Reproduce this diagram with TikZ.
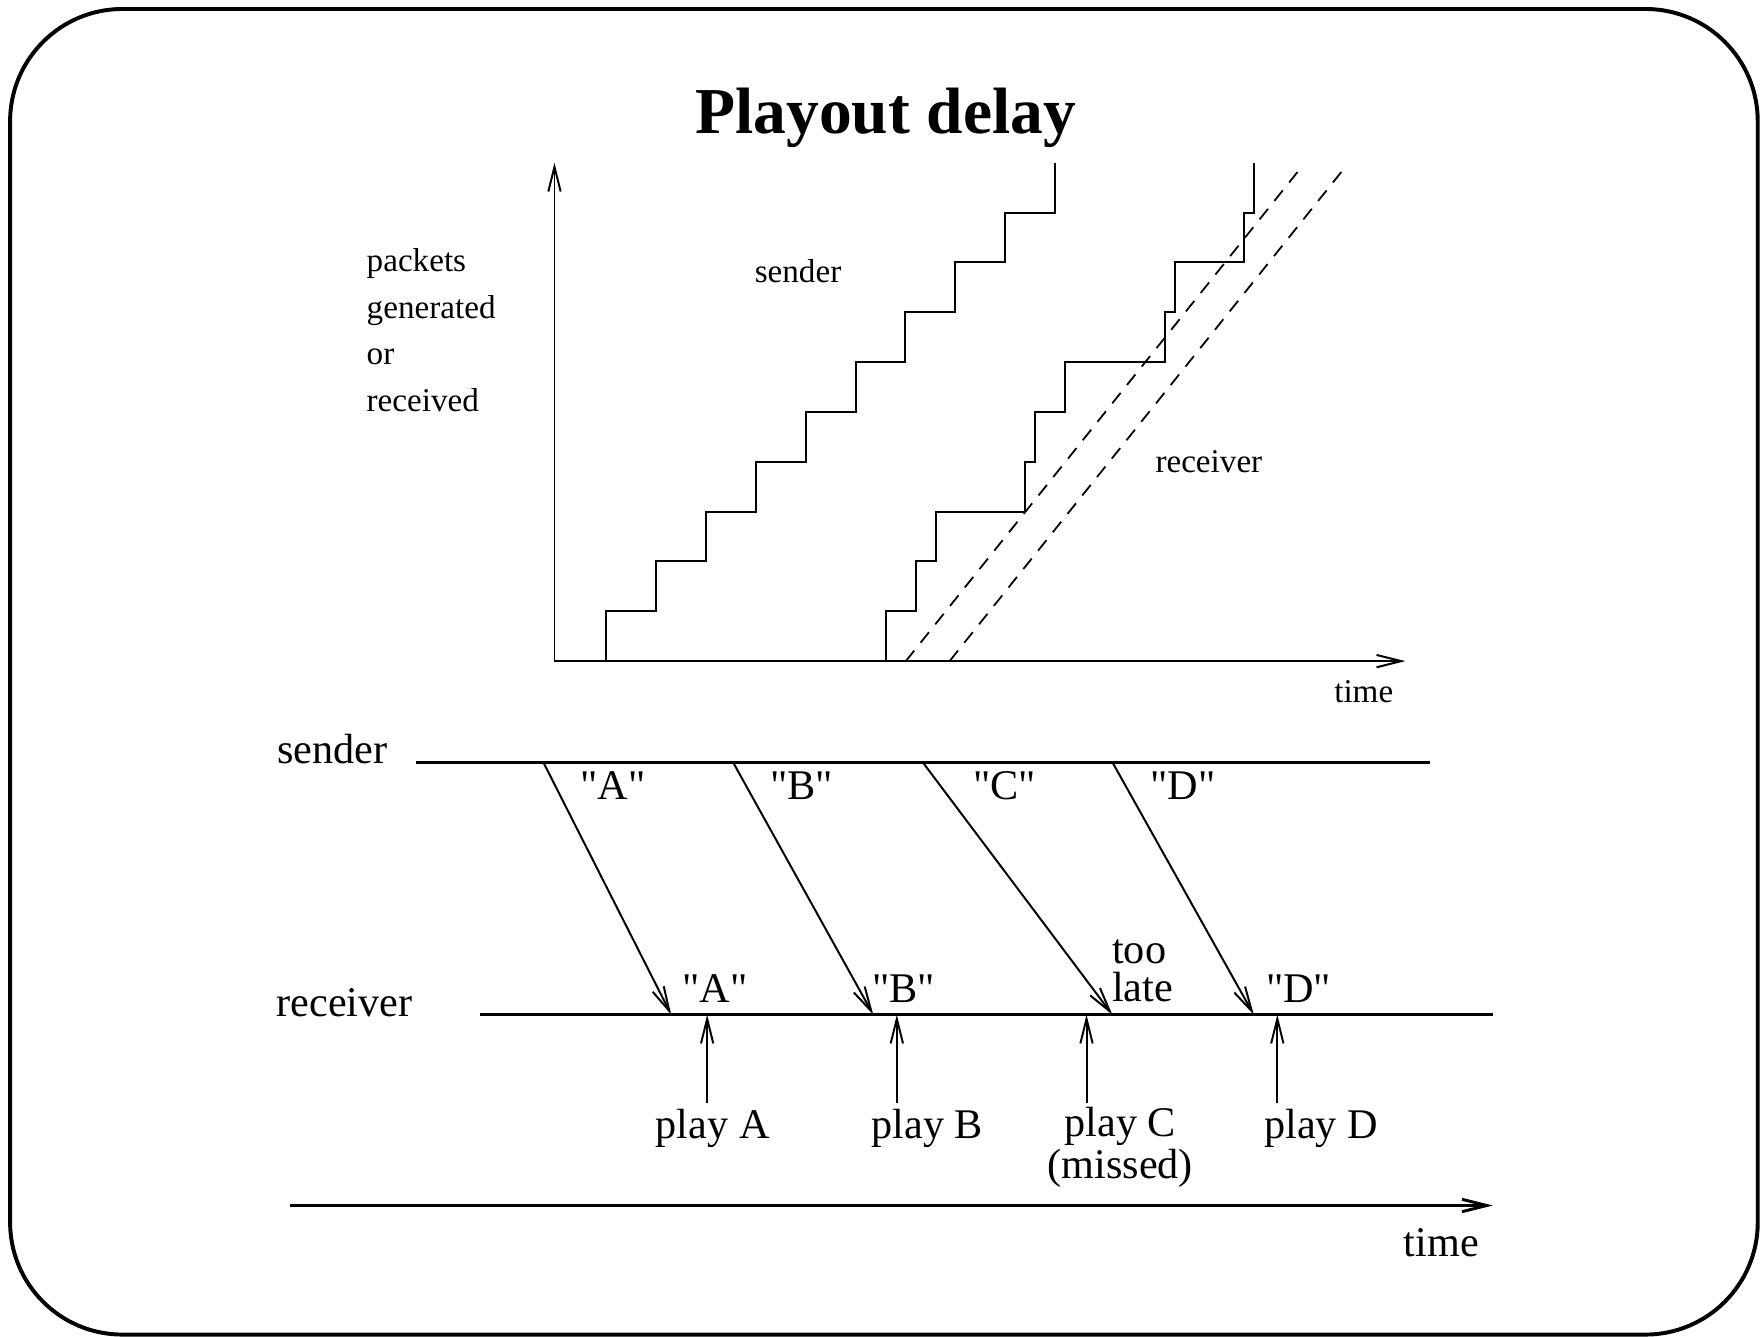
\documentclass[tikz,border=0pt]{standalone}
\usepackage{fontspec}
\setmainfont{Liberation Serif}
\newfontfamily\qfont{Liberation Serif}
\usetikzlibrary{arrows.meta}
\begin{document}
\begin{tikzpicture}[x=0.01cm,y=-0.01cm,
  ln/.style={line width=0.5pt},
  hln/.style={line width=0.75pt},
  tip/.style={-{Straight Barb[length=0.22cm,width=0.11cm]}},
  small/.style={font=\fontsize{8.4}{10}\selectfont, inner sep=0pt},
  big/.style={font=\fontsize{10.7}{9.6}\selectfont, inner sep=0pt},
  qbig/.style={font=\fontsize{10.7}{9.6}\selectfont\qfont, inner sep=0pt},
  dsh/.style={line width=0.45pt, dash pattern=on 0.12cm off 0.09cm}]
\useasboundingbox (0,0) rectangle (1568,1191);
% frame
\draw[line width=1pt, rounded corners=1cm] (9,8) rectangle (1566,1189);
% title
\node[inner sep=0pt, font=\fontsize{16.6}{20}\selectfont\bfseries] (title) at (789,105) {Playout delay};

% ---------- upper plot ----------
\coordinate (O) at (494,589);
\coordinate (Ytop) at (494,145);
\coordinate (Xend) at (1252,589);
\draw[ln,tip] (O) -- (Ytop);
\draw[ln,tip] (O) -- (Xend);

\draw[ln] (540,589) |- (584.4,544.6) |- (628.9,500.2) |- (673.3,455.8) |- (717.8,411.4)
  |- (762.2,367) |- (806.7,322.6) |- (851.1,278.2) |- (895.6,233.8) |- (940,189.4) -- (940,145);

\draw[ln] (789.3,589) |- (815.9,544.6) |- (833.6,500.2) |- (913.4,455.8) |- (922.3,411.4)
  |- (948.9,367) |- (1037.6,322.6) |- (1046.4,278.2) |- (1108.5,233.8) |- (1117.4,189.4) -- (1117.4,145);

\draw[dsh] (807,589) -- (1161,147);
\draw[dsh] (846,589) -- (1200,147);

\node[small, anchor=base west] (l1) at (326,242) {packets};
\node[small, anchor=base west] (l2) at (326,283.5) {generated};
\node[small, anchor=base west] (l3) at (326,325) {or};
\node[small, anchor=base west] (l4) at (326,366.5) {received};
\node[small] (snd) at (711,242) {sender};
\node[small] (rcv) at (1077,411) {receiver};
\node[small] (t1) at (1215,616) {time};

% ---------- lower diagram ----------
\coordinate (sL) at (371,679);
\coordinate (sR) at (1274,679);
\coordinate (rL) at (428,904);
\coordinate (rR) at (1330,904);
\coordinate (tL) at (258,1074);
\coordinate (tR) at (1330,1074);
\draw[hln] (sL) -- (sR);
\draw[hln] (rL) -- (rR);
\draw[hln,tip] (tL) -- (tR);

\node[big] (sname) at (296,667) {sender};
\node[big] (rname) at (307,893) {receiver};
\node[big] (t2) at (1284,1107) {time};

\coordinate (sA) at (484,679);  \coordinate (rA) at (598,904);
\coordinate (sB) at (653,679);  \coordinate (rB) at (778,904);
\coordinate (sC) at (822,679);  \coordinate (rC) at (991,904);
\coordinate (sD) at (991,679);  \coordinate (rD) at (1117,904);
\draw[ln,tip] (sA) -- (rA);
\draw[ln,tip] (sB) -- (rB);
\draw[ln,tip] (sC) -- (rC);
\draw[ln,tip] (sD) -- (rD);

\node[qbig] (qA) at (546,700) {"A"};
\node[qbig] (qB) at (714,700) {"B"};
\node[qbig] (qC) at (895,700) {"C"};
\node[qbig] (qD) at (1054,700) {"D"};
\node[qbig] (pA) at (637,881) {"A"};
\node[qbig] (pB) at (805,881) {"B"};
\node[qbig] (pD) at (1157,881) {"D"};
\node[big, align=left] (late) at (1018,865) {too\\late};

\coordinate (bA) at (630,983); \coordinate (uA) at (630,904);
\coordinate (bB) at (799,983); \coordinate (uB) at (799,904);
\coordinate (bC) at (968,983); \coordinate (uC) at (968,904);
\coordinate (bD) at (1138,983); \coordinate (uD) at (1138,904);
\draw[ln,tip] (bA) -- (uA);
\draw[ln,tip] (bB) -- (uB);
\draw[ln,tip] (bC) -- (uC);
\draw[ln,tip] (bD) -- (uD);

\node[big] (playA) at (635,1005) {play A};
\node[big] (playB) at (826,1005) {play B};
\node[big, align=center] (playC) at (998,1022) {play C\\(missed)};
\node[big] (playD) at (1177,1005) {play D};
\end{tikzpicture}
\end{document}
